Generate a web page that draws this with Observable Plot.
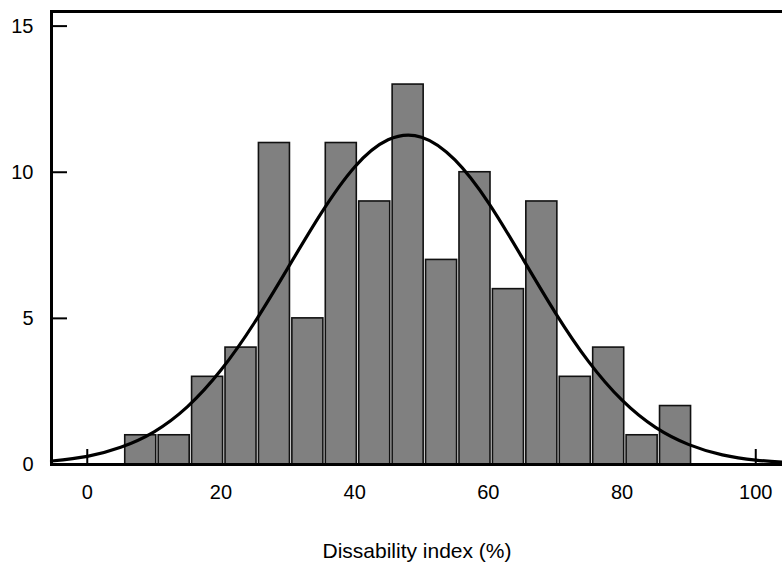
<!DOCTYPE html>
<html>
<head>
<meta charset="utf-8">
<script src="https://cdn.jsdelivr.net/npm/d3@7"></script>
<script src="https://cdn.jsdelivr.net/npm/@observablehq/plot@0.6"></script>
<style>
  body { margin: 0; background: #fff; }
</style>
</head>
<body>
<div id="chart"></div>
<script>
// Histogram bins (lower edges, %) and counts
const binStart = [5.5, 10.5, 15.5, 20.5, 25.5, 30.5, 35.5, 40.5, 45.5, 50.5, 55.5, 60.5, 65.5, 70.5, 75.5, 80.5, 85.5];
const binCounts = [1, 1, 3, 4, 11, 5, 11, 9, 13, 7, 10, 6, 9, 3, 4, 1, 2];
const binWidth = 5;

// Fitted curve, values
const curveX = [-5.35, 0, 5, 10, 15, 20, 25, 30, 35, 40, 45, 50, 55, 60, 65, 70, 75, 80, 85, 90, 95, 100, 104];
const curveY = [0.12, 0.28, 0.59, 1.12, 1.98, 3.23, 4.85, 6.72, 8.6, 10.18, 11.11, 11.2, 10.42, 8.96, 7.1, 5.2, 3.52, 2.2, 1.27, 0.68, 0.33, 0.15, 0.08];

const xTicks = [0, 20, 40, 60, 80, 100];
const yTicks = [0, 5, 10, 15];
const xLabel = "Dissability index (%)";

const bins = binStart.map((s, i) => ({x1: s, x2: s + binWidth, count: binCounts[i]}));
const fit = curveX.map((x, i) => ({x, y: curveY[i]}));

const chart = Plot.plot({
  width: 782,
  height: 567,
  marginLeft: 51,
  marginRight: 0,
  marginTop: 11,
  marginBottom: 103,
  style: {
    fontFamily: "'Liberation Sans', Arial, sans-serif",
    fontSize: "20px",
    color: "#000",
    background: "#fff",
    overflow: "visible"
  },
  x: {domain: [-5.35, 104]},
  y: {domain: [0, 15.5]},
  marks: [
    Plot.axisX({ticks: xTicks, tickSize: -15, tickPadding: 35, strokeWidth: 2, label: null}),
    Plot.axisX({ticks: [], label: xLabel, labelAnchor: "center", labelOffset: 93, labelArrow: "none", fontSize: 21}),
    Plot.axisY({ticks: yTicks, tickSize: -16, tickPadding: 34, strokeWidth: 2, label: null}),
    Plot.rectY(bins, {x1: "x1", x2: "x2", y: "count", fill: "#808080", stroke: "#111", strokeWidth: 1.6, insetLeft: 1.2, insetRight: 1.2}),
    Plot.line(fit, {x: "x", y: "y", curve: "natural", stroke: "#000", strokeWidth: 3.2}),
    Plot.frame({anchor: "left", strokeWidth: 3, stroke: "#000"}),
    Plot.frame({anchor: "top", strokeWidth: 3, stroke: "#000"}),
    Plot.frame({anchor: "bottom", strokeWidth: 3, stroke: "#000"})
  ]
});
document.getElementById("chart").appendChild(chart);
</script>
</body>
</html>
